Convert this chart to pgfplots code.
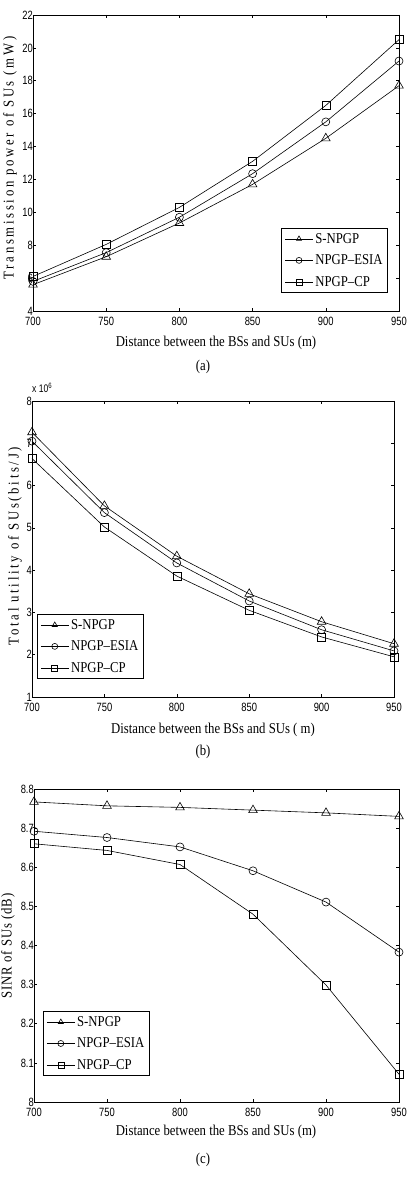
\documentclass[border=0pt]{standalone}
\usepackage{pgfplots}
\pgfplotsset{compat=1.18}
\usepackage{fontspec}
\setmainfont{Liberation Serif}[FakeStretch=0.85]
\newfontfamily\tickfont{Liberation Sans}[FakeStretch=0.78]
\newfontfamily\ylabfont{Liberation Serif}[FakeStretch=0.85, LetterSpace=18]
\newfontfamily\ylabfontb{Liberation Serif}[FakeStretch=0.85, LetterSpace=6]

\pgfplotstableread{
x tri cir sq
700 5.6 5.8 6.1
750 7.3 7.55 8.05
800 9.35 9.7 10.3
850 11.7 12.35 13.1
900 14.5 15.5 16.5
950 17.7 19.2 20.5
}\tabA
\pgfplotstableread{
x tri cir sq
700 7.26 7.05 6.64
750 5.52 5.36 5.02
800 4.33 4.17 3.86
850 3.44 3.27 3.05
900 2.78 2.59 2.42
950 2.26 2.09 1.95
}\tabB
\pgfplotstableread{
x tri cir sq
700 8.767 8.692 8.660
750 8.757 8.676 8.643
800 8.753 8.652 8.607
850 8.746 8.591 8.480
900 8.739 8.511 8.299
950 8.730 8.383 8.071
}\tabC

\pgfplotsset{
  mat/.style={
    scale only axis,
    xmin=700, xmax=950,
    xtick={700,750,800,850,900,950},
    tick align=inside, tick pos=both,
    major tick length=3pt,
    axis line style={line width=0.9pt},
    every tick/.style={black, line width=0.6pt},
    /pgf/number format/assume math mode=true,
    tick label style={font=\tickfont\fontsize{12}{12}\selectfont},
    xticklabel style={inner sep=1pt, yshift=-4.5pt},
    yticklabel style={inner sep=1pt, xshift=1pt},
    every axis plot/.append style={black, line width=0.6pt, mark size=4pt, mark options={solid}},
    legend cell align=left,
    legend style={font=\fontsize{15}{15}\selectfont, draw=black, line width=0.8pt, inner xsep=3pt, inner ysep=3pt, row sep=6pt},
    legend image code/.code={\draw[mark repeat=2, mark phase=2, line width=0.6pt, mark size=3pt, ##1] plot coordinates {(0pt,0pt) (14pt,0pt) (28pt,0pt)};},
  }
}

\begin{document}
\begin{tikzpicture}[x=1pt, y=1pt]
\path[use as bounding box] (0,0) rectangle (409,1182);

% (a)
\begin{axis}[mat, at={(33pt,871pt)}, anchor=south west, width=366pt, height=296pt,
  ymin=4, ymax=22, ytick={4,6,...,22},
  legend style={at={(0.970,0.061)}, anchor=south east}]
\addplot[mark=triangle, mark size=5pt] table[x=x, y=tri] {\tabA};
\addplot[mark=o] table[x=x, y=cir] {\tabA};
\addplot[mark=square] table[x=x, y=sq] {\tabA};
\legend{S-NPGP, NPGP\textendash ESIA, NPGP\textendash CP}
\end{axis}
\node[font=\fontsize{15}{15}\selectfont] at (216,839) {Distance between the BSs and SUs (m)};
\node[font=\fontsize{15}{15}\selectfont] at (203,815) {(a)};
\node[rotate=90, font=\ylabfont\fontsize{15}{15}\selectfont] at (10,1024) {Transmission power of SUs (mW)};

% (b)
\begin{axis}[mat, at={(32pt,485pt)}, anchor=south west, width=362pt, height=296pt,
  ymin=1, ymax=8, ytick={1,2,...,8},
  legend style={at={(0.014,0.061)}, anchor=south west}]
\addplot[mark=triangle, mark size=5pt] table[x=x, y=tri] {\tabB};
\addplot[mark=o] table[x=x, y=cir] {\tabB};
\addplot[mark=square] table[x=x, y=sq] {\tabB};
\legend{S-NPGP, NPGP\textendash ESIA, NPGP\textendash CP}
\end{axis}
\node[anchor=south west, inner sep=0pt, font=\tickfont\fontsize{11}{11}\selectfont] at (32,789) {x 10\textsuperscript{6}};
\node[font=\fontsize{15}{15}\selectfont] at (213,452) {Distance between the BSs and SUs ( m)};
\node[font=\fontsize{15}{15}\selectfont] at (203,430) {(b)};
\node[rotate=90, font=\ylabfont\fontsize{15}{15}\selectfont] at (15,636) {Total utility of SUs(bits/J)};

% (c)
\begin{axis}[mat, at={(34pt,80pt)}, anchor=south west, width=365pt, height=313pt,
  ymin=8, ymax=8.8, ytick={8,8.1,8.2,8.3,8.4,8.5,8.6,8.7,8.8},
  yticklabel style={/pgf/number format/fixed},
  legend style={at={(0.025,0.083)}, anchor=south west}]
\addplot[mark=triangle, mark size=5pt] table[x=x, y=tri] {\tabC};
\addplot[mark=o] table[x=x, y=cir] {\tabC};
\addplot[mark=square] table[x=x, y=sq] {\tabC};
\legend{S-NPGP, NPGP\textendash ESIA, NPGP\textendash CP}
\end{axis}
\node[font=\fontsize{15}{15}\selectfont] at (216,50) {Distance between the BSs and SUs (m)};
\node[font=\fontsize{15}{15}\selectfont] at (203,22) {(c)};
\node[rotate=90, font=\ylabfontb\fontsize{15}{15}\selectfont] at (8,236) {SINR of SUs (dB)};
\end{tikzpicture}
\end{document}
